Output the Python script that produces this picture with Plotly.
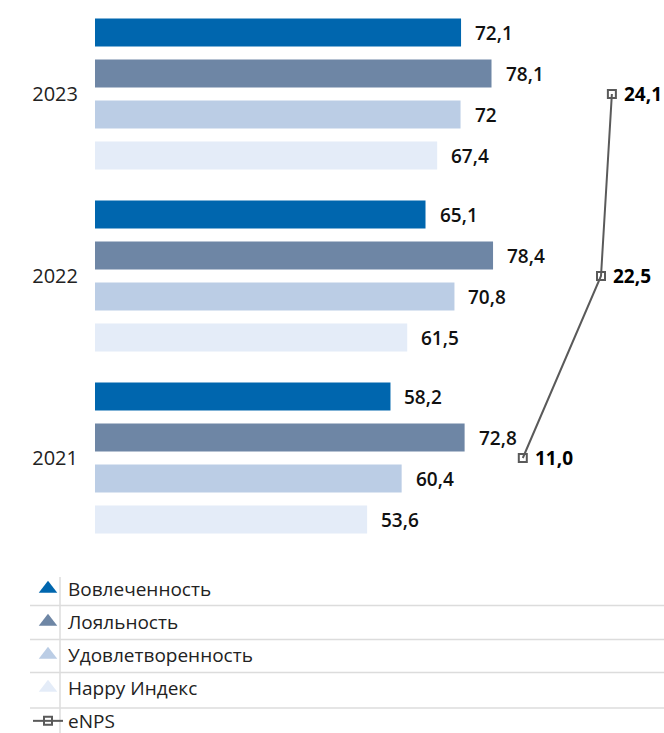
import plotly.graph_objects as go

years = ["2023", "2022", "2021"]
series_names = ["Вовлеченность", "Лояльность", "Удовлетворенность", "Happy Индекс"]
vovlech = [72.1, 65.1, 58.2]
loyal = [78.1, 78.4, 72.8]
udovl = [72, 70.8, 60.4]
happy = [67.4, 61.5, 53.6]
enps = [24.1, 22.5, 11.0]
colors = ["#0066AE", "#6E86A5", "#BBCDE5", "#E4ECF8"]

series_values = [vovlech, loyal, udovl, happy]

FONT = "Open Sans"
fig = go.Figure()

pitch = 41  # px between bars inside a group
for i, (name, vals, col) in enumerate(zip(series_names, series_values, colors)):
    fig.add_trace(go.Bar(
        y=years, x=vals, orientation="h", name=name,
        marker=dict(color=col, line=dict(width=0)),
        showlegend=False, hoverinfo="x+y",
    ))
    for j, v in enumerate(vals):
        fig.add_annotation(
            x=v, y=j, xref="x", yref="y",
            text=f"{v:g}".replace(".", ","),
            showarrow=False, xanchor="left", yanchor="middle",
            xshift=12, yshift=-(i - 1.5) * pitch,
            font=dict(family=FONT, size=19, color="#111111", weight=600),
        )

fig.add_trace(go.Scatter(
    x=enps, y=years, xaxis="x2", yaxis="y", mode="lines+markers",
    name="eNPS", showlegend=False,
    line=dict(color="#5a5a5a", width=2),
    marker=dict(symbol="square-open", size=8, color="#5a5a5a", line=dict(width=2)),
))
for j, v in enumerate(enps):
    fig.add_annotation(
        x=v, y=j, xref="x2", yref="y",
        text=f"{v:.1f}".replace(".", ","),
        showarrow=False, xanchor="left", yanchor="middle", xshift=10,
        font=dict(family=FONT, size=19, color="#000000", weight=700),
    )

# legend entries
for k, (name, col) in enumerate(zip(series_names, colors)):
    fig.add_trace(go.Scatter(
        x=[None], y=[None], mode="markers", name=name, legendgroup=f"g{k}",
        marker=dict(symbol="triangle-up", size=24, color=col),
    ))
fig.add_trace(go.Scatter(
    x=[None], y=[None], mode="lines+markers", name="eNPS", legendgroup="g4",
    line=dict(color="#5a5a5a", width=2),
    marker=dict(symbol="square-open", size=8, color="#5a5a5a", line=dict(width=2)),
))

W, H = 664, 733
left = 95
plot_w = W - left
x_scale = 5.077
x2_scale = 6.8
x2_zero = 448 - left
plot_bottom = 560
cat_px = 182
a = -94 / cat_px
b = a + plot_bottom / cat_px

# separators in legend
shapes = []
for yy in [605.5, 639.5, 672.5, 708]:
    shapes.append(dict(type="line", xref="paper", yref="paper",
                       x0=(30 - left) / plot_w, x1=1,
                       y0=-(yy - plot_bottom) / plot_bottom, y1=-(yy - plot_bottom) / plot_bottom,
                       line=dict(color="#dcdcdc", width=1.5)))
shapes.append(dict(type="line", xref="paper", yref="paper",
                   x0=(60 - left) / plot_w, x1=(60 - left) / plot_w,
                   y0=-(577 - plot_bottom) / plot_bottom, y1=-(H - plot_bottom) / plot_bottom,
                   line=dict(color="#dcdcdc", width=1.5)))

fig.update_layout(
    width=W, height=H,
    margin=dict(l=left, r=0, t=0, b=H - plot_bottom, autoexpand=False),
    paper_bgcolor="white", plot_bgcolor="white",
    barmode="group", bargap=0.099, bargroupgap=0.317,
    font=dict(family=FONT, size=18, color="#222222"),
    xaxis=dict(range=[0, plot_w / x_scale], visible=False, fixedrange=True),
    xaxis2=dict(range=[-x2_zero / x2_scale, (plot_w - x2_zero) / x2_scale],
                overlaying="x", visible=False),
    yaxis=dict(type="category", categoryorder="array", categoryarray=years,
               range=[b, a], showgrid=False, zeroline=False, showline=False,
               ticks="", ticklabelstandoff=16, automargin=False,
               tickfont=dict(family=FONT, size=20, color="#222222")),
    showlegend=True,
    legend=dict(xref="container", yref="container", x=28 / W, y=1 - 570 / H,
                xanchor="left", yanchor="top", tracegroupgap=5.3,
                font=dict(family=FONT, size=19, color="#222222"),
                bgcolor="rgba(0,0,0,0)", itemwidth=30),
    shapes=shapes,
)

fig.write_html("out.html", config={"displayModeBar": False},
               post_script="document.body.style.margin='0';document.body.style.overflow='hidden';")
